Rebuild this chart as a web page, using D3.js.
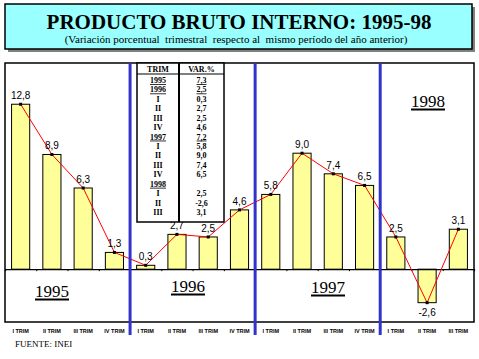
<!DOCTYPE html>
<html><head><meta charset="utf-8">
<script src="https://cdn.jsdelivr.net/npm/d3@7"></script>
<style>body{margin:0;background:#fff}svg{display:block}</style>
</head><body>
<script>
const categories = ["I TRIM","II TRIM","III TRIM","IV TRIM","I TRIM","II TRIM","III TRIM","IV TRIM","I TRIM","II TRIM","III TRIM","IV TRIM","I TRIM","II TRIM","III TRIM"];
const values = [12.8, 8.9, 6.3, 1.3, 0.3, 2.7, 2.5, 4.6, 5.8, 9.0, 7.4, 6.5, 2.5, -2.6, 3.1];
const years = ["1995","1996","1997","1998"];
const tableTrim = ["1995","1996","I","II","III","IV","1997","I","II","III","IV","1998","I","II","III"];
const tableVar  = ["7,3","2,5","0,3","2,7","2,5","4,6","7,2","5,8","9,0","7,4","6,5","","2,5","-2,6","3,1"];
const tableUnderline = [true,true,false,false,false,false,true,false,false,false,false,true,false,false,false];
const title = "PRODUCTO BRUTO INTERNO: 1995-98";
const subtitle = "(Variación porcentual  trimestral  respecto al  mismo período del año anterior)";
const source = "FUENTE: INEI";

const W = 479, H = 359;
const frame = {x0: 5, x1: 474, y0: 63, y1: 322};
const svg = d3.select("body").append("svg").attr("width", W).attr("height", H);

// title box
svg.append("rect").attr("x", 8).attr("y", 7).attr("width", 467).attr("height", 45).attr("fill", "#808080");
svg.append("rect").attr("x", 5).attr("y", 4).attr("width", 467).attr("height", 45)
  .attr("fill", "#99ffff").attr("stroke", "#000").attr("stroke-width", 1.5);
svg.append("text").attr("x", 239).attr("y", 29).attr("text-anchor", "middle")
  .attr("font-family", "Liberation Serif, Times New Roman, serif").attr("font-weight", "bold")
  .attr("font-size", 21).text(title);
svg.append("text").attr("x", 236).attr("y", 43).attr("text-anchor", "middle")
  .attr("font-family", "Liberation Serif, Times New Roman, serif")
  .attr("font-size", 11).attr("xml:space", "preserve").style("white-space", "pre").text(subtitle);

const x = d3.scaleBand().domain(d3.range(categories.length)).range([frame.x0, frame.x1]).paddingInner(0.42).paddingOuter(0.21);
const step = x.step();
const cx = i => x(i) + x.bandwidth() / 2;
const y = d3.scaleLinear().domain([-4.1, 16]).range([frame.y1, frame.y0]);

// frame
svg.append("rect").attr("x", frame.x0).attr("y", frame.y0).attr("width", frame.x1 - frame.x0)
  .attr("height", frame.y1 - frame.y0).attr("fill", "#fff").attr("stroke", "#000").attr("stroke-width", 1.5);

// bars
svg.append("g").selectAll("rect").data(values).join("rect")
  .attr("x", (d, i) => x(i)).attr("width", x.bandwidth())
  .attr("y", d => y(Math.max(0, d))).attr("height", d => Math.abs(y(d) - y(0)))
  .attr("fill", "#ffff99").attr("stroke", "#000").attr("stroke-width", 1);

// zero axis with ticks at band boundaries
const bounds = d3.range(1, categories.length).map(i => frame.x0 + i * step);
const axis = d3.axisBottom(d3.scaleLinear().domain([frame.x0, frame.x1]).range([frame.x0, frame.x1]))
  .tickValues(bounds).tickSize(2).tickFormat("");
svg.append("g").attr("transform", `translate(0,${y(0)})`).call(axis)
  .call(g => g.select(".domain").attr("stroke-width", 1.2));

// red line
const line = d3.line().x((d, i) => cx(i)).y(d => y(d));
svg.append("path").datum(values).attr("d", line).attr("fill", "none").attr("stroke", "#ff0000").attr("stroke-width", 1);
svg.append("g").selectAll("rect").data(values).join("rect")
  .attr("x", (d, i) => cx(i) - 1.5).attr("y", d => y(d) - 1.5).attr("width", 3).attr("height", 3).attr("fill", "#000");

// value labels
const loc = d3.formatLocale({decimal: ",", thousands: ".", grouping: [3], currency: ["", ""], minus: "-"});
const fmt = loc.format(".1f");
svg.append("g").selectAll("text").data(values).join("text")
  .attr("x", (d, i) => cx(i)).attr("y", d => d >= 0 ? y(d) - 5 : y(d) + 13)
  .attr("text-anchor", "middle").attr("font-family", "Liberation Sans, Arial, sans-serif")
  .attr("font-size", 10).text(d => fmt(d));

// table
const tb = {x0: 137, x1: 224, xm: 179, y0: 63, yh: 74, y1: 222};
const tg = svg.append("g");
tg.append("rect").attr("x", tb.x0).attr("y", tb.y0).attr("width", tb.x1 - tb.x0).attr("height", tb.y1 - tb.y0)
  .attr("fill", "#fff").attr("stroke", "#000").attr("stroke-width", 1.5);
tg.append("line").attr("x1", tb.xm).attr("x2", tb.xm).attr("y1", tb.y0).attr("y2", tb.y1).attr("stroke", "#000").attr("stroke-width", 2);
tg.append("line").attr("x1", tb.x0).attr("x2", tb.x1).attr("y1", tb.yh).attr("y2", tb.yh).attr("stroke", "#000").attr("stroke-width", 1.2);
const tfont = "Liberation Serif, Times New Roman, serif";
tg.append("text").attr("x", (tb.x0 + tb.xm) / 2).attr("y", 71.5).attr("text-anchor", "middle")
  .attr("font-family", tfont).attr("font-weight", "bold").attr("font-size", 8).text("TRIM");
tg.append("text").attr("x", (tb.xm + tb.x1) / 2).attr("y", 71.5).attr("text-anchor", "middle")
  .attr("font-family", tfont).attr("font-weight", "bold").attr("font-size", 8).text("VAR.%");
const ry = d3.scaleLinear().domain([0, tableTrim.length - 1]).range([83, 215]);
tableTrim.forEach((t, i) => {
  const a = tg.append("text").attr("x", (tb.x0 + tb.xm) / 2).attr("y", ry(i)).attr("text-anchor", "middle")
    .attr("font-family", tfont).attr("font-weight", "bold").attr("font-size", 8).text(t);
  const b = tg.append("text").attr("x", (tb.xm + tb.x1) / 2).attr("y", ry(i)).attr("text-anchor", "middle")
    .attr("font-family", tfont).attr("font-weight", "bold").attr("font-size", 8).text(tableVar[i]);
  if (tableUnderline[i]) { a.attr("text-decoration", "underline"); b.attr("text-decoration", "underline"); }
});

// blue separators
[4, 8, 12].forEach(i => {
  svg.append("line").attr("x1", frame.x0 + i * step).attr("x2", frame.x0 + i * step)
    .attr("y1", frame.y0).attr("y2", 335).attr("stroke", "#3333cc").attr("stroke-width", 3);
});

// year labels
const yearPos = [[52, 297], [188, 292], [328, 293], [428, 107]];
years.forEach((t, i) => {
  const tx = svg.append("text").attr("x", yearPos[i][0]).attr("y", yearPos[i][1]).attr("text-anchor", "middle")
    .attr("font-family", tfont).attr("font-size", 17).text(t);
  const w = tx.node().getComputedTextLength();
  svg.append("line").attr("x1", yearPos[i][0] - w / 2).attr("x2", yearPos[i][0] + w / 2)
    .attr("y1", yearPos[i][1] + 2.5).attr("y2", yearPos[i][1] + 2.5).attr("stroke", "#000").attr("stroke-width", 1.8);
});

// category labels
svg.append("g").selectAll("text").data(categories).join("text")
  .attr("x", (d, i) => cx(i)).attr("y", 333).attr("text-anchor", "middle")
  .attr("font-family", "Liberation Sans, Arial, sans-serif").attr("font-weight", "bold")
  .attr("font-size", 5.5).text(d => d);

// source
svg.append("text").attr("x", 15).attr("y", 347).attr("font-family", tfont)
  .attr("font-size", 9).text(source);
</script>
</body></html>
